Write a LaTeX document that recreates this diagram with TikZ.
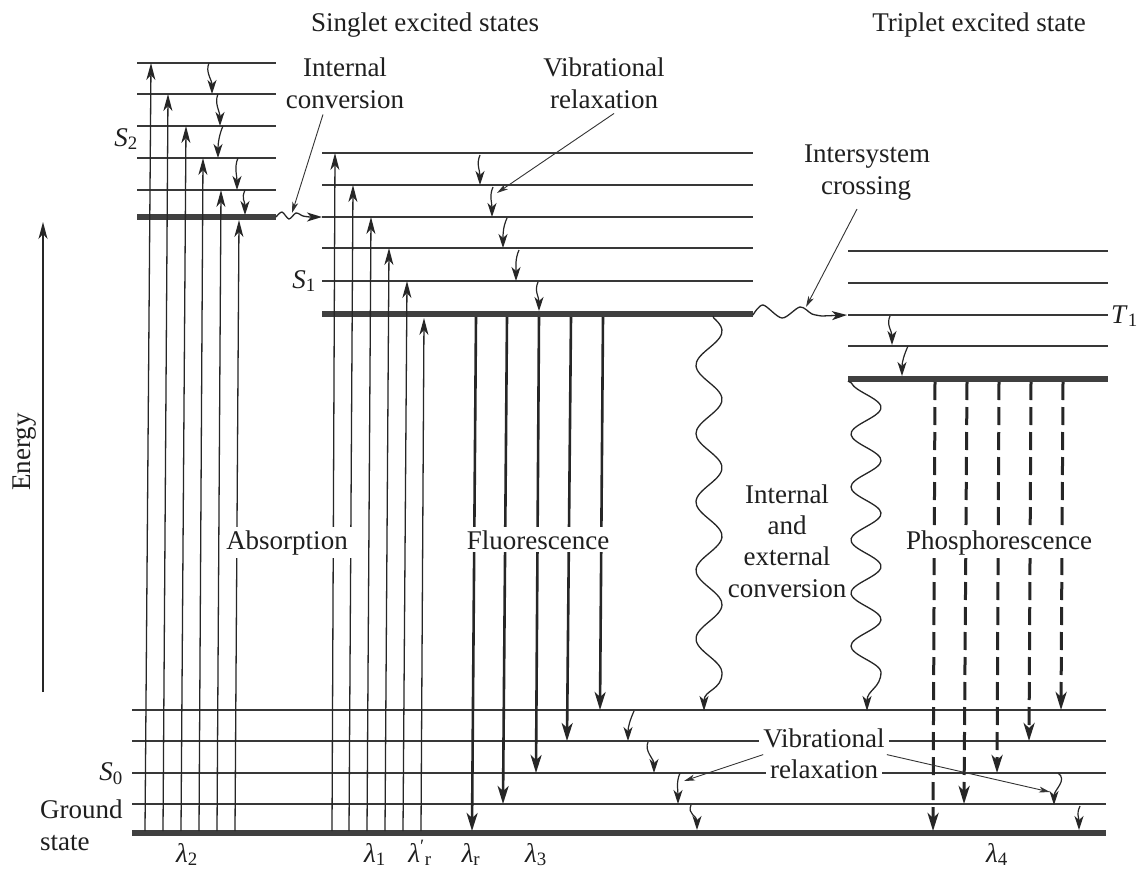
\documentclass[tikz,border=0pt]{standalone}
\usepackage{fontspec}
\setmainfont{Liberation Serif}
\usetikzlibrary{arrows.meta}
\begin{document}
\begin{tikzpicture}[x=1pt,y=-1pt,
  lvl/.style={draw=black!78, line width=1.3pt},
  thk/.style={draw=black!75, line width=5.5pt},
  absarr/.style={draw=black!85, line width=1.3pt, -{Stealth[length=17pt,width=9pt,inset=5pt]}},
  flarr/.style={draw=black!85, line width=2.6pt, -{Stealth[length=18pt,width=11pt,inset=5pt]}},
  pharr/.style={draw=black!85, line width=3pt, dash pattern=on 18pt off 7pt, -{Stealth[length=18pt,width=11pt,inset=5pt]}},
  vrarr/.style={draw=black!85, line width=1.2pt, -{Stealth[length=14pt,width=9pt,inset=4pt]}},
  wavarr/.style={draw=black!85, line width=1.3pt, -{Stealth[length=15pt,width=9pt,inset=4pt]}},
  ptrarr/.style={draw=black!80, line width=0.9pt, -{Stealth[length=11pt,width=6pt,inset=3pt]}},
  txt/.style={font=\fontsize{27}{30}\selectfont, text=black!88, inner sep=1pt, anchor=base},
  wtxt/.style={txt, fill=white, inner xsep=4pt, inner ysep=3pt},
]
\useasboundingbox[fill=white] (0,0) rectangle (1138,870);

% ---- energy levels ----
\foreach \y in {63,94,126,158,190} \draw[lvl] (137,\y) -- (276,\y);
\draw[thk] (137,217) -- (276,217);
\foreach \y in {153,185,217,248,281} \draw[lvl] (322,\y) -- (753,\y);
\draw[thk] (322,314) -- (753,314);
\foreach \y in {251,283,315,346} \draw[lvl] (848,\y) -- (1108,\y);
\draw[thk] (848,379) -- (1108,379);
\foreach \y in {710,741,773,804} \draw[lvl] (132,\y) -- (1106,\y);
\draw[thk] (132,833) -- (1106,833);

% ---- absorption ----
\foreach \xb/\xt/\yt in {145/151/63, 163/168/94, 181/186/126, 199/203/158, 217/221/190, 235/239/220}
  \draw[absarr] (\xb,831) -- (\xt,\yt);
\foreach \xb/\xt/\yt in {332/335/153, 349/353/185, 367/371/217, 385/389/248, 403/407/281, 421/424/318}
  \draw[absarr] (\xb,831) -- (\xt,\yt);

% ---- fluorescence ----
\foreach \xt/\xb/\yb in {476/472/831, 507/503/804, 539/536/773, 571/567/741, 603/600/710}
  \draw[flarr] (\xt,317) -- (\xb,\yb);

% ---- phosphorescence ----
\foreach \xt/\xb/\yb in {935/933/831, 967/964/804, 999/997/773, 1031/1029/741, 1063/1061/710}
  \draw[pharr] (\xt,382) -- (\xb,\yb);

% ---- vibrational relaxation arrows ----
\foreach \a/\b/\c/\d in {209/63/212/94, 218/94/220/126, 223/126/218/158, 238/158/237/190, 245/190/245/215,
  480/155/480/185, 493/187/492/217, 507/218/503/248, 519/250/516/281, 538/282/539/311,
  890/316/892/345, 908/346/902/376,
  634/711/628/741, 648/742/654/773, 680/773/678/804, 691/805/697/830, 1080/806/1079/830}
  \draw[vrarr] (\a,\b) .. controls (\a-4,\b+9) and (\c,\d-14) .. (\c,\d);
\draw[vrarr] (1058,773) .. controls (1068,780) and (1054,790) .. (1054,805);

% ---- wavy transitions ----
\draw[wavarr] plot[smooth] coordinates {(276,217) (282,212) (289,219) (296,213) (303,216) (310,217)} -- (322,217);
\draw[wavarr] plot[smooth] coordinates {(753,315) (763,305) (782,318) (800,307) (812,314) (822,316)} -- (847,315);
\draw[wavarr] (713,316) -- plot[smooth, domain=318:673, samples=90, variable=\t] ({709+13*cos(((\t-331)/68.4)*360)}, \t)
   .. controls (722,690) and (704,690) .. (704,711);
\draw[wavarr] (848,381) -- plot[smooth, domain=383:672, samples=90, variable=\t] ({866-15*cos(((\t-381)/53)*360)}, \t)
   .. controls (881,688) and (867,690) .. (867,711);

% ---- energy axis ----
\draw[absarr] (43,692) -- (43,222);
\node[font=\fontsize{27}{30}\selectfont, text=black!88, rotate=90, inner sep=1pt] (energy) at (25,452) {Energy};

% ---- texts ----
\node[txt] (tsing) at (425,31) {Singlet excited states};
\node[txt] (ttrip) at (979,31) {Triplet excited state};
\node[txt] (ic1) at (345,76) {Internal};
\node[txt] (ic2) at (345,108) {conversion};
\node[txt] (vra) at (604,76) {Vibrational};
\node[txt] (vrb) at (604,108) {relaxation};
\node[txt] (isc1) at (867,162) {Intersystem};
\node[txt] (isc2) at (866,194) {crossing};
\node[wtxt] (absn) at (287,549) {Absorption};
\node[wtxt] (fluo) at (538,549) {Fluorescence};
\node[wtxt] (phos) at (999,549) {Phosphorescence};
\node[txt] (iec1) at (787,503) {Internal};
\node[txt] (iec2) at (787,534) {and};
\node[txt] (iec3) at (787,565) {external};
\node[txt] (iec4) at (787,597) {conversion};
\node[wtxt] (vrc) at (824,747) {Vibrational};
\node[wtxt] (vrd) at (824,778) {relaxation};

\node[txt] (s2l) at (126,146) {\textit{S}\textsubscript{2}};
\node[txt] (s1l) at (304,288) {\textit{S}\textsubscript{1}};
\node[txt] (s0l) at (111,780) {\textit{S}\textsubscript{0}};
\node[txt, anchor=base west] (t1l) at (1110,323) {\textit{T}\textsubscript{1}};
\node[txt, anchor=base west] (gnd1) at (39,818) {Ground};
\node[txt, anchor=base west] (gnd2) at (39,850) {state};

\node[txt] (lam2) at (187,862) {\textit{λ}\textsubscript{2}};
\node[txt] (lam1) at (375,862) {\textit{λ}\textsubscript{1}};
\node[txt] (lamrp) at (420,862) {\textit{λ}\textsuperscript{′}\textsubscript{r}};
\node[txt] (lamr) at (471,862) {\textit{λ}\textsubscript{r}};
\node[txt] (lam3) at (536,862) {\textit{λ}\textsubscript{3}};
\node[txt] (lam4) at (997,862) {\textit{λ}\textsubscript{4}};

% ---- pointers ----
\coordinate (icp) at (292,213);
\coordinate (vrp) at (497,193);
\coordinate (iscp) at (806,307);
\coordinate (vrl) at (684,781);
\coordinate (vrr) at (1050,792);
\draw[ptrarr] ([xshift=-22pt,yshift=-5pt]ic2.south) -- (icp);
\draw[ptrarr] ([xshift=10pt,yshift=-4pt]vrb.south) -- (vrp);
\draw[ptrarr] ([xshift=-9pt,yshift=-8pt]isc2.south) -- (iscp);
\draw[ptrarr] ([xshift=4pt,yshift=-4pt]vrc.south west) -- (vrl);
\draw[ptrarr] ([xshift=-2pt,yshift=-4pt]vrc.south east) -- (vrr);
\end{tikzpicture}
\end{document}
